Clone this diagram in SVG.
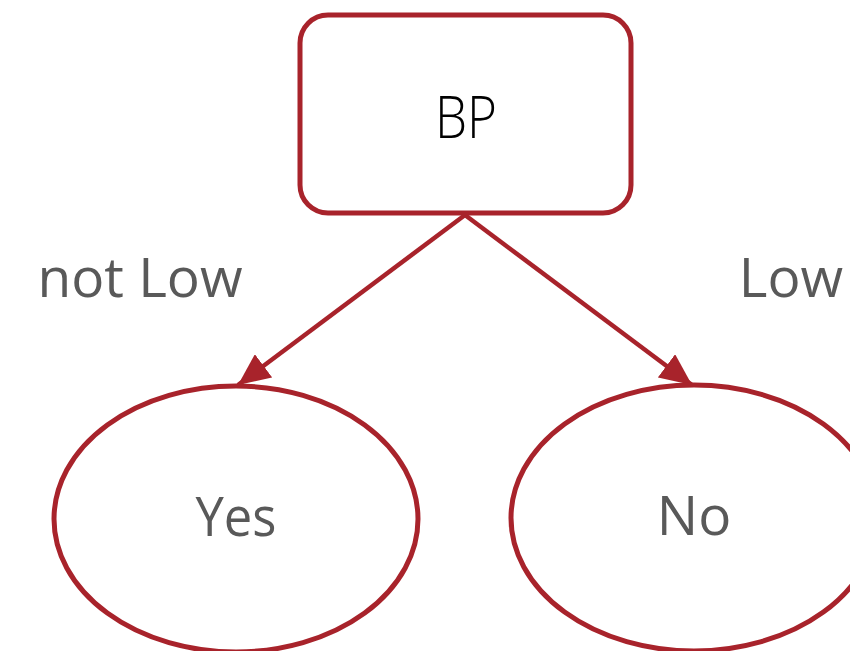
<svg xmlns="http://www.w3.org/2000/svg" width="850" height="651" viewBox="0 0 850 651">
<defs>
<style>
.shape{fill:#fff;stroke:#A8232B;stroke-width:5}
.edge{stroke:#A8232B;stroke-width:4.5;fill:none}
.lbl{font-family:"Open Sans","Noto Sans",sans-serif;font-size:55px;fill:#595959;text-anchor:middle}
.title{font-family:"Open Sans","Noto Sans",sans-serif;font-weight:300;font-size:58px;fill:#000;text-anchor:middle}
</style>
<marker id="arr" viewBox="0 0 11 10" refX="11" refY="5" markerWidth="7.1" markerHeight="6.45" markerUnits="strokeWidth" orient="auto">
<path d="M0,0 L11,5 L0,10 Z" fill="#A8232B"/>
</marker>
</defs>
<g id="connectors">
<line class="edge" x1="465" y1="215" x2="238" y2="385" marker-end="url(#arr)"/>
<line class="edge" x1="465" y1="215" x2="692" y2="385" marker-end="url(#arr)"/>
<text class="lbl" x="140" y="297">not Low</text>
<text class="lbl" x="791" y="297">Low</text>
</g>
<g id="node-bp">
<rect class="shape" x="300" y="15" width="331" height="198" rx="28"/>
<text class="title" x="466" y="138" textLength="62" lengthAdjust="spacingAndGlyphs">BP</text>
</g>
<g id="node-yes">
<ellipse class="shape" cx="236" cy="519" rx="182" ry="133"/>
<text class="lbl" x="236" y="536" textLength="81" lengthAdjust="spacingAndGlyphs">Yes</text>
</g>
<g id="node-no">
<ellipse class="shape" cx="694" cy="518" rx="183" ry="133"/>
<text class="lbl" x="694" y="535">No</text>
</g>
</svg>
